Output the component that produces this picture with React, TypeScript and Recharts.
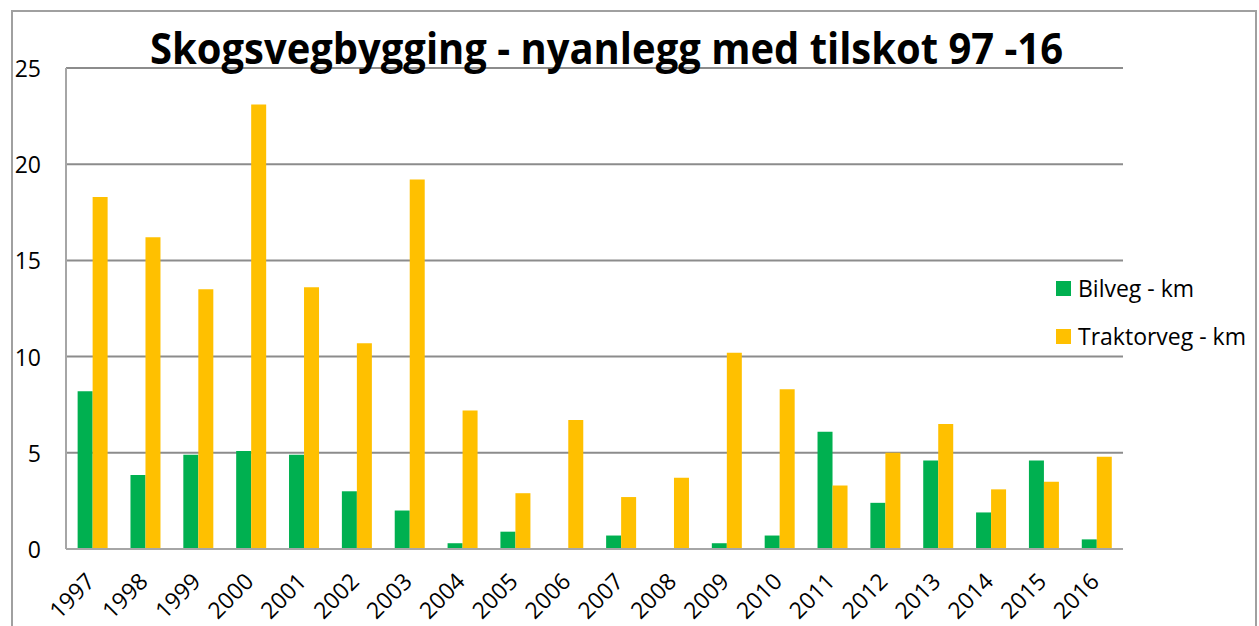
import React from "react";
import { BarChart, Bar, XAxis, YAxis, CartesianGrid } from "recharts";

const years = ["1997","1998","1999","2000","2001","2002","2003","2004","2005","2006","2007","2008","2009","2010","2011","2012","2013","2014","2015","2016"];
const bilveg = [8.2, 3.85, 4.9, 5.1, 4.9, 3.0, 2.0, 0.3, 0.9, 0, 0.7, 0, 0.3, 0.7, 6.1, 2.4, 4.6, 1.9, 4.6, 0.5];
const traktorveg = [18.3, 16.2, 13.5, 23.1, 13.6, 10.7, 19.2, 7.2, 2.9, 6.7, 2.7, 3.7, 10.2, 8.3, 3.3, 5.0, 6.5, 3.1, 3.5, 4.8];
const yTicks = [0, 5, 10, 15, 20, 25];
const seriesNames = ["Bilveg - km", "Traktorveg - km"];
const seriesColors = ["#00B050", "#FFC000"];
const title = "Skogsvegbygging - nyanlegg med tilskot 97 -16";

const data = years.map((y, i) => ({ year: y, bilveg: bilveg[i], traktorveg: traktorveg[i] }));

const FONT = "'Open Sans', 'Noto Sans', sans-serif";

const XTick = (props: any) => {
  const { x, y, payload } = props;
  const ox = x + 4;
  const oy = y + 34;
  return (
    <text x={ox} y={oy} textAnchor="end" transform={`rotate(-45, ${ox}, ${oy})`} fontSize={23} fontFamily={FONT} fill="#000">
      {payload.value}
    </text>
  );
};

const YTick = (props: any) => {
  const { x, y, payload } = props;
  return (
    <text x={x} y={y} textAnchor="end" dominantBaseline="central" fontSize={23} fontFamily={FONT} fill="#000">
      {payload.value}
    </text>
  );
};

export default function App() {
  return (
    <div style={{ position: "fixed", left: 0, top: 0, width: 1259, height: 626, overflow: "hidden", background: "#fff" }}>
      <div style={{ position: "absolute", left: 11, top: 10, width: 1246, height: 700, border: "2px solid #a0a0a0", boxSizing: "border-box" }} />
      <div style={{ position: "absolute", left: 0, top: 0 }}>
        <BarChart
          width={1259}
          height={626}
          data={data}
          margin={{ top: 68, right: 136, bottom: 0, left: 0 }}
          barCategoryGap="22%"
          barGap={0}
        >
          <CartesianGrid horizontal={true} vertical={false} stroke="#8c8c8c" strokeWidth={2} />
          <XAxis
            dataKey="year"
            height={77}
            interval={0}
            tickLine={false}
            tickSize={0}
            tickMargin={0}
            axisLine={{ stroke: "#a6a6a6", strokeWidth: 2 }}
            tick={<XTick />}
          />
          <YAxis
            width={66}
            domain={[0, 25]}
            ticks={yTicks}
            tickLine={false}
            tickSize={0}
            tickMargin={25}
            axisLine={{ stroke: "#a6a6a6", strokeWidth: 2 }}
            tick={<YTick />}
          />
          <Bar dataKey="bilveg" name={seriesNames[0]} fill={seriesColors[0]} isAnimationActive={false} />
          <Bar dataKey="traktorveg" name={seriesNames[1]} fill={seriesColors[1]} isAnimationActive={false} />
        </BarChart>
      </div>
      <svg width={1259} height={626} style={{ position: "absolute", left: 0, top: 0, pointerEvents: "none" }}>
        <text
          x={606.5}
          y={64}
          textAnchor="middle"
          fontSize={43}
          fontWeight="bold"
          fontFamily={FONT}
          fill="#000"
          textLength={913}
          lengthAdjust="spacingAndGlyphs"
        >
          {title}
        </text>
      </svg>
      {seriesNames.map((n, i) => (
        <div key={n} style={{ position: "absolute", left: 1056, top: 281 + i * 48, height: 15, display: "flex", alignItems: "center", whiteSpace: "nowrap" }}>
          <div style={{ width: 15, height: 15, background: seriesColors[i], marginRight: 7 }} />
          <span style={{ fontFamily: FONT, fontSize: 23, color: "#000", lineHeight: "15px" }}>{n}</span>
        </div>
      ))}
    </div>
  );
}
